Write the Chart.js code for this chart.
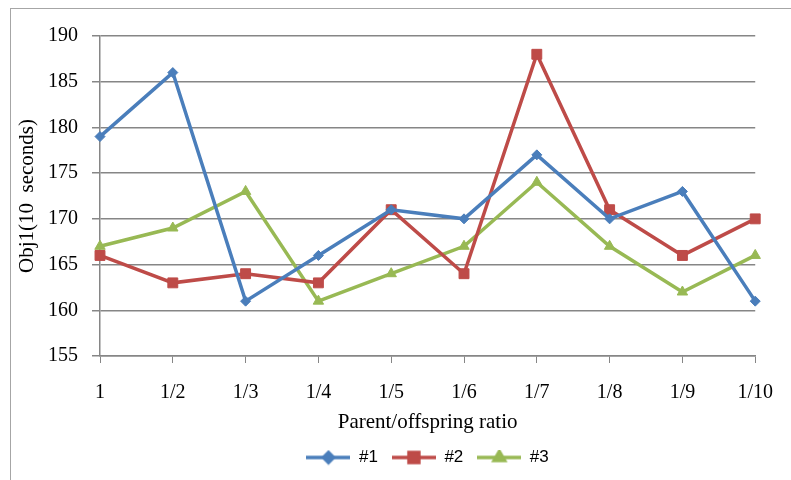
<!DOCTYPE html>
<html>
<head>
<meta charset="utf-8">
<script src="https://cdn.jsdelivr.net/npm/chart.js@4/dist/chart.umd.min.js"></script>
<style>
  html, body { margin: 0; padding: 0; background: #fff; }
  #wrap { width: 791px; height: 480px; }
</style>
</head>
<body>
<div id="wrap"><canvas id="c" width="791" height="480"></canvas></div>
<script>
const categories = ['1', '1/2', '1/3', '1/4', '1/5', '1/6', '1/7', '1/8', '1/9', '1/10'];
const series1 = [179, 186, 161, 166, 171, 170, 177, 170, 173, 161];
const series2 = [166, 163, 164, 163, 171, 164, 188, 171, 166, 170];
const series3 = [167, 169, 173, 161, 164, 167, 174, 167, 162, 166];
const seriesNames = ['#1', '#2', '#3'];

const colors = ['#4A7EBB', '#BE4B48', '#98B954'];
const styles = ['rectRot', 'rect', 'triangle'];
const radii = [5, 7, 6];
const serif = '"Liberation Serif", "Times New Roman", serif';

// legend swatch: a short line with the series marker in the middle
function swatch(color, style, r) {
  const c = document.createElement('canvas');
  c.width = 44; c.height = 16;
  const g = c.getContext('2d');
  g.strokeStyle = color; g.fillStyle = color; g.lineWidth = 3.5;
  g.beginPath(); g.moveTo(0, 8); g.lineTo(44, 8); g.stroke();
  Chart.helpers.drawPoint(g, {pointStyle: style, radius: r, borderWidth: 1}, 22, 8);
  g.fill();
  return c;
}

const frame = {
  id: 'frame',
  beforeDraw(chart) {
    const ctx = chart.ctx;
    ctx.save();
    ctx.fillStyle = '#fff';
    ctx.fillRect(0, 0, chart.width, chart.height);
    ctx.strokeStyle = '#A6A6A6';
    ctx.lineWidth = 1;
    ctx.strokeRect(10.5, 8.5, 900, 600);
    ctx.restore();
  }
};

const values = [series1, series2, series3];
const datasets = values.map((v, i) => ({
  label: seriesNames[i],
  data: v,
  borderColor: colors[i],
  backgroundColor: colors[i],
  borderWidth: 3.5,
  pointStyle: styles[i],
  pointRadius: radii[i],
  pointHoverRadius: radii[i],
  pointBorderWidth: 1,
  tension: 0
}));

new Chart(document.getElementById('c'), {
  type: 'line',
  data: { labels: categories, datasets },
  plugins: [frame],
  options: {
    responsive: false,
    animation: false,
    layout: { padding: { top: 36, right: 32, left: 15, bottom: 4 } },
    plugins: {
      tooltip: { enabled: false },
      legend: {
        position: 'bottom',
        fullSize: false,
        labels: {
          usePointStyle: true,
          pointStyleWidth: 44,
          boxHeight: 16,
          padding: 14,
          color: '#000',
          font: { family: '"Liberation Sans", Arial, sans-serif', size: 17 },
          generateLabels(chart) {
            return chart.data.datasets.map((d, i) => ({
              text: d.label,
              pointStyle: swatch(colors[i], styles[i], radii[i]),
              fillStyle: colors[i],
              strokeStyle: colors[i],
              lineWidth: 0,
              datasetIndex: i,
              hidden: false
            }));
          }
        }
      }
    },
    scales: {
      x: {
        offset: false,
        grid: { drawOnChartArea: false, drawTicks: true, tickLength: 7, color: '#868686' },
        border: { color: '#868686', width: 1.5 },
        ticks: { color: '#000', font: { family: serif, size: 20 }, padding: 18, maxRotation: 0, autoSkip: false },
        title: { display: true, text: 'Parent/offspring ratio', color: '#000', font: { family: serif, size: 21 }, padding: { top: 6, bottom: 0 } },
        afterFit(scale) { scale.height = 79; }
      },
      y: {
        min: 155, max: 190,
        ticks: { stepSize: 5, color: '#000', font: { family: serif, size: 20 }, padding: 14 },
        grid: { color: '#868686', lineWidth: 1.5, tickLength: 8 },
        border: { color: '#868686', width: 1.5 },
        title: { display: true, text: 'Obj1(10  seconds)', color: '#000', font: { family: serif, size: 21 }, padding: 0 },
        afterFit(scale) { scale.width = 85; }
      }
    }
  }
});
</script>
</body>
</html>
